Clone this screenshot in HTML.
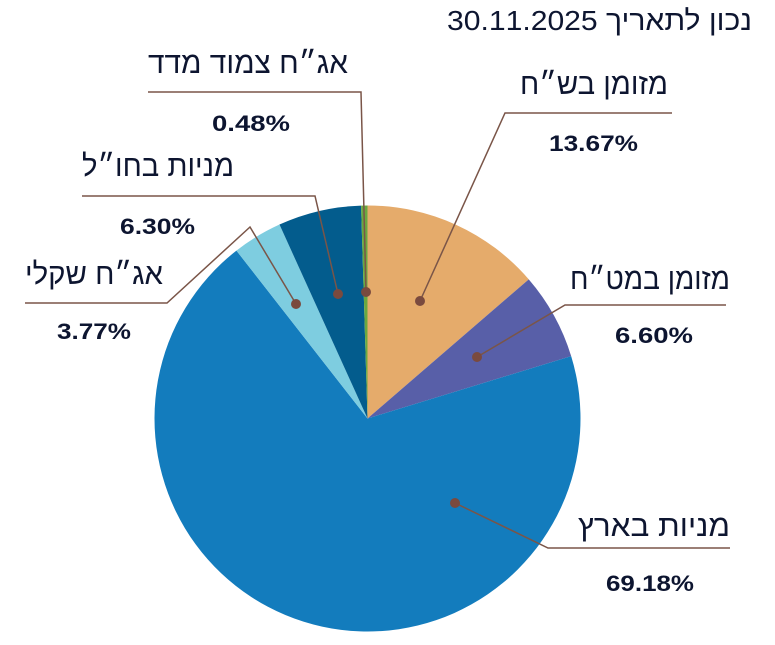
<!DOCTYPE html>
<html><head><meta charset="utf-8"><style>
html,body{margin:0;padding:0;background:#fff;}
svg{display:block;}
text{font-family:"Liberation Sans","DejaVu Sans",sans-serif;fill:#0d1530;}
.l{font-size:30px;}
.p{font-size:22px;font-weight:bold;}
</style></head><body>
<svg width="775" height="645" viewBox="0 0 775 645">
<g id="pie"></g>
<g stroke="#7a5548" stroke-width="1.5" fill="none">
<polyline points="366,292 361,92 148,92"/>
<polyline points="338,294 315,196 82,196"/>
<polyline points="296,304 250,227 167,303 25,303"/>
<polyline points="420,301 505,113 672,113"/>
<polyline points="477,357 565,305 726,305"/>
<polyline points="455,503 548,548 730,548"/>
</g>
<g fill="#7a4a3e">
<circle cx="366" cy="292" r="5"/><circle cx="338" cy="294" r="5"/><circle cx="296" cy="304" r="5"/>
<circle cx="420" cy="301" r="5"/><circle cx="477" cy="357" r="5"/><circle cx="455" cy="503" r="5"/>
</g>
<text class="l" x="447" y="30" textLength="305" lengthAdjust="spacingAndGlyphs" style="font-size:28px" direction="ltr">נכון לתאריך 30.11.2025</text>
<text class="l" x="148" y="73" textLength="200" lengthAdjust="spacingAndGlyphs">אג״ח צמוד מדד</text>
<text class="p" x="212" y="131" textLength="78" lengthAdjust="spacingAndGlyphs">0.48%</text>
<text class="l" x="82" y="176" textLength="152" lengthAdjust="spacingAndGlyphs">מניות בחו״ל</text>
<text class="p" x="120" y="234" textLength="75" lengthAdjust="spacingAndGlyphs">6.30%</text>
<text class="l" x="25" y="284" textLength="138" lengthAdjust="spacingAndGlyphs">אג״ח שקלי</text>
<text class="p" x="57" y="339" textLength="74" lengthAdjust="spacingAndGlyphs">3.77%</text>
<text class="l" x="520" y="94" textLength="148" lengthAdjust="spacingAndGlyphs">מזומן בש״ח</text>
<text class="p" x="549" y="151" textLength="89" lengthAdjust="spacingAndGlyphs">13.67%</text>
<text class="l" x="570" y="289" textLength="160" lengthAdjust="spacingAndGlyphs">מזומן במט״ח</text>
<text class="p" x="615" y="343" textLength="78" lengthAdjust="spacingAndGlyphs">6.60%</text>
<text class="l" x="578" y="536" textLength="152" lengthAdjust="spacingAndGlyphs">מניות בארץ</text>
<text class="p" x="606" y="591" textLength="88" lengthAdjust="spacingAndGlyphs">69.18%</text>
</svg>
<script>
(function(){
var cx=367.5,cy=418.5,r=213;
var d=[[13.67,"#e5ab6b"],[6.60,"#585fa8"],[69.18,"#137cbd"],[3.77,"#7ecde0"],[6.30,"#035c8d"],[0.48,"#6aa840"]];
var a=0,g=document.getElementById("pie"),s="";
d.forEach(function(x){
var a2=a+x[0]/100*2*Math.PI;
var x1=cx+r*Math.sin(a),y1=cy-r*Math.cos(a),x2=cx+r*Math.sin(a2),y2=cy-r*Math.cos(a2);
s+='<path d="M'+cx+','+cy+' L'+x1+','+y1+' A'+r+','+r+' 0 '+((a2-a)>Math.PI?1:0)+' 1 '+x2+','+y2+' Z" fill="'+x[1]+'"/>';
a=a2;});
g.innerHTML=s;
})();
</script>
</body></html>
